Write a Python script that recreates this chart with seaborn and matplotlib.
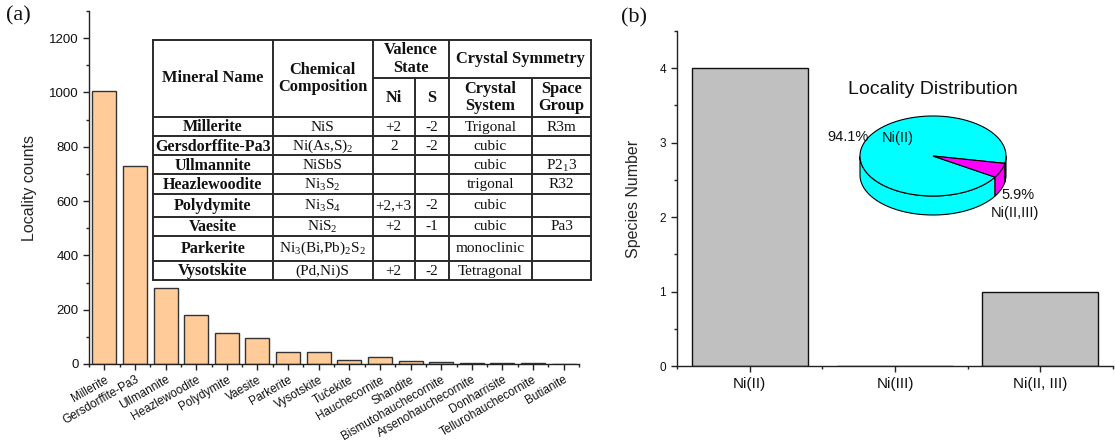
import numpy as np
import matplotlib
matplotlib.use("Agg")
import matplotlib.pyplot as plt
from matplotlib.patches import Polygon
from matplotlib.ticker import MultipleLocator, FixedLocator
import seaborn as sns

# ---------------- data ----------------
minerals = ['Millerite', 'Gersdorffite-Pa3', 'Ullmannite', 'Heazlewoodite', 'Polydymite',
            'Vaesite', 'Parkerite', 'Vysotskite', 'Tučekite', 'Hauchecornite', 'Shandite',
            'Bismutohauchecornite', 'Arsenohauchecornite', 'Donharrisite',
            'Tellurohauchecornite', 'Butianite']
locality_counts = [1007, 731, 280, 182, 116, 96, 46, 46, 15, 26, 11, 6, 4, 2, 2, 1]

valence_groups = ['Ni(II)', 'Ni(III)', 'Ni(II, III)']
species_number = [4, 0, 1]

pie_labels = ['Ni(II)', 'Ni(II,III)']
pie_share = [94.1, 5.9]
pie_colors = ['#00FFFF', '#FF00FF']

tbl_names = ['Millerite', 'Gersdorffite-Pa3', 'Ullmannite', 'Heazlewoodite',
             'Polydymite', 'Vaesite', 'Parkerite', 'Vysotskite']
tbl_formula = ['NiS', r'Ni(As,S)$_{\mathregular{2}}$', 'NiSbS',
               r'Ni$_{\mathregular{3}}$S$_{\mathregular{2}}$',
               r'Ni$_{\mathregular{3}}$S$_{\mathregular{4}}$',
               r'NiS$_{\mathregular{2}}$',
               r'Ni$_{\mathregular{3}}$(Bi,Pb)$_{\mathregular{2}}$S$_{\mathregular{2}}$',
               '(Pd,Ni)S']
tbl_ni = ['+2', '2', '', '', '+2,+3', '+2', '', '+2']
tbl_s = ['-2', '-2', '', '', '-2', '-1', '', '-2']
tbl_system = ['Trigonal', 'cubic', 'cubic', 'trigonal', 'cubic', 'cubic', 'monoclinic', 'Tetragonal']
tbl_group = ['R3m', '', r'P2$_{\mathregular{1}}$3', 'R32', '', 'Pa3', '', '']

# ---------------- style ----------------
sns.set_style('ticks')
plt.rcParams['font.family'] = ['Liberation Sans', 'DejaVu Sans']
plt.rcParams['axes.linewidth'] = 1.0
plt.rcParams['axes.edgecolor'] = '#222222'
plt.rcParams['text.color'] = '#111111'
SERIF = ['Liberation Serif', 'DejaVu Serif']
LINE = '#2a2a2a'

fig = plt.figure(figsize=(11.15, 4.44), dpi=100)
W, H = 1115, 444

def px_axes(l, t, r, b):
    return fig.add_axes([l / W, 1 - b / H, (r - l) / W, (b - t) / H])

# ---------------- panel (a) ----------------
ax1 = px_axes(89, 11, 579, 364)
sns.barplot(x=minerals, y=locality_counts, color='#FFCC99', saturation=1,
            edgecolor='#333333', linewidth=1.0, width=0.78, ax=ax1)
ax1.set_xlim(-0.5, len(minerals) - 0.5)
ax1.set_ylim(0, 1300)
ax1.yaxis.set_major_locator(FixedLocator(np.arange(0, 1201, 200)))
ax1.yaxis.set_minor_locator(MultipleLocator(100))
ax1.xaxis.set_minor_locator(FixedLocator(np.arange(-0.5, len(minerals), 1)))
ax1.tick_params(axis='both', which='major', direction='out', length=4, width=1,
                color='#222222', labelcolor='#111111')
ax1.tick_params(axis='both', which='minor', direction='out', length=2.5, width=1, color='#222222')
ax1.tick_params(axis='y', labelsize=9.5)
ax1.tick_params(axis='x', labelsize=8.5, pad=3)
for lab in ax1.get_xticklabels():
    lab.set_rotation(30)
    lab.set_ha('right')
    lab.set_rotation_mode('anchor')
ax1.set_ylabel('Locality counts', fontsize=11.5)
ax1.yaxis.set_label_coords(-0.106, 0.5)
ax1.set_xlabel('')
sns.despine(ax=ax1)

# ---------------- panel (b) ----------------
ax2 = px_axes(677, 31, 1113, 366)
sns.barplot(x=valence_groups, y=species_number, color='#C0C0C0', saturation=1,
            edgecolor='#111111', linewidth=1.0, width=0.8, ax=ax2)
ax2.set_xlim(-0.5, len(valence_groups) - 0.5)
ax2.set_ylim(0, 4.5)
ax2.yaxis.set_major_locator(FixedLocator([0, 1, 2, 3, 4]))
ax2.yaxis.set_minor_locator(MultipleLocator(0.5))
ax2.xaxis.set_minor_locator(FixedLocator(np.arange(-0.5, len(valence_groups), 1)))
ax2.tick_params(axis='both', which='major', direction='out', length=4.5, width=1,
                color='#222222', labelcolor='#111111')
ax2.tick_params(axis='both', which='minor', direction='out', length=2.5, width=1, color='#222222')
ax2.tick_params(axis='y', labelsize=8.5)
ax2.tick_params(axis='x', labelsize=11)
ax2.set_ylabel('Species Number', fontsize=11.5)
ax2.yaxis.set_label_coords(-0.082, 0.5)
ax2.set_xlabel('')
sns.despine(ax=ax2)

# ---------------- overlay: table, pie, panel labels ----------------
ov = fig.add_axes([0, 0, 1, 1], zorder=5)
ov.set_xlim(0, W)
ov.set_ylim(H, 0)
ov.axis('off')
ov.patch.set_alpha(0)

ov.text(6, 6, '(a)', family=SERIF, fontsize=16, va='top', ha='left')
ov.text(621, 8, '(b)', family=SERIF, fontsize=16, va='top', ha='left')

# table grid
cols = [152.5, 273, 372.5, 415, 449, 532, 591]
top, sub, head = 40, 78, 117
rows = [117, 136.5, 155.5, 174.5, 193.5, 216.5, 235.5, 261, 280]
ov.add_patch(plt.Rectangle((cols[0], top), cols[-1] - cols[0], rows[-1] - top,
                           facecolor='white', edgecolor='none', zorder=1))
lw = 1.4
for y in [top] + rows:
    ov.plot([cols[0], cols[-1]], [y, y], color=LINE, lw=lw, zorder=2, solid_capstyle='projecting')
ov.plot([cols[2], cols[-1]], [sub, sub], color=LINE, lw=lw, zorder=2)
for i, x in enumerate(cols):
    y0 = sub if i in (3, 5) else top
    ov.plot([x, x], [y0, rows[-1]], color=LINE, lw=lw, zorder=2, solid_capstyle='projecting')

hb = dict(family=SERIF, fontweight='bold', fontsize=11.8, ha='center', va='center',
          zorder=3, linespacing=1.15)
mid = lambda a, b: (a + b) / 2
ov.text(mid(cols[0], cols[1]), mid(top, head), 'Mineral Name', **hb)
ov.text(mid(cols[1], cols[2]), mid(top, head), 'Chemical\nComposition', **hb)
ov.text(mid(cols[2], cols[4]), mid(top, sub), 'Valence\nState', **hb)
ov.text(mid(cols[4], cols[6]), mid(top, sub), 'Crystal Symmetry', **hb)
ov.text(mid(cols[2], cols[3]), mid(sub, head), 'Ni', **hb)
ov.text(mid(cols[3], cols[4]), mid(sub, head), 'S', **hb)
ov.text(mid(cols[4], cols[5]), mid(sub, head), 'Crystal\nSystem', **hb)
ov.text(mid(cols[5], cols[6]), mid(sub, head), 'Space\nGroup', **hb)

rb = dict(hb, fontsize=11.5)
nb = dict(family=SERIF, fontsize=11, ha='center', va='center', zorder=3)
for r in range(len(tbl_names)):
    yc = mid(rows[r], rows[r + 1]) + 0.5
    ov.text(mid(cols[0], cols[1]), yc, tbl_names[r], **rb)
    cells = [tbl_formula[r], tbl_ni[r], tbl_s[r], tbl_system[r], tbl_group[r]]
    for c, txt in enumerate(cells):
        if txt:
            ov.text(mid(cols[c + 1], cols[c + 2]), yc, txt, **nb)

# 3D pie (inset)
cx, cy, rx, ry, depth = 933, 156, 73, 40, 19
start = -10.6
edges = start + np.concatenate([[0], np.cumsum(pie_share)]) / sum(pie_share) * 360

def ell(t, dz=0.0):
    t = np.radians(t)
    return np.column_stack([cx + rx * np.cos(t), cy - ry * np.sin(t) + dz])

for i in range(len(pie_share)):
    t = np.linspace(edges[i], edges[i + 1], 600)
    front = np.sin(np.radians(t)) <= 0
    idx = np.flatnonzero(front)
    if idx.size == 0:
        continue
    segs = np.split(idx, np.flatnonzero(np.diff(idx) > 1) + 1)
    for s in segs:
        ts = t[s]
        pts = np.vstack([ell(ts), ell(ts[::-1], depth)])
        ov.add_patch(Polygon(pts, closed=True, facecolor=pie_colors[i],
                             edgecolor='black', lw=0.8, zorder=6))
for i in range(len(pie_share)):
    t = np.linspace(edges[i], edges[i + 1], 600)
    pts = np.vstack([[cx, cy], ell(t)])
    ov.add_patch(Polygon(pts, closed=True, facecolor=pie_colors[i],
                         edgecolor='black', lw=0.8, zorder=7))

ov.text(cx, 90, 'Locality Distribution', fontsize=14, ha='center', va='center', zorder=8)
ov.text(848, 137, f'{pie_share[0]:.1f}%', fontsize=10.5, ha='center', va='center', zorder=8)
ov.text(898, 138, pie_labels[0], fontsize=10.5, ha='center', va='center', zorder=8)
ov.text(1018, 195, f'{pie_share[1]:.1f}%', fontsize=10.5, ha='center', va='center', zorder=8)
ov.text(1015, 213, pie_labels[1], fontsize=10.5, ha='center', va='center', zorder=8)

fig.savefig('out.png', dpi=100)
